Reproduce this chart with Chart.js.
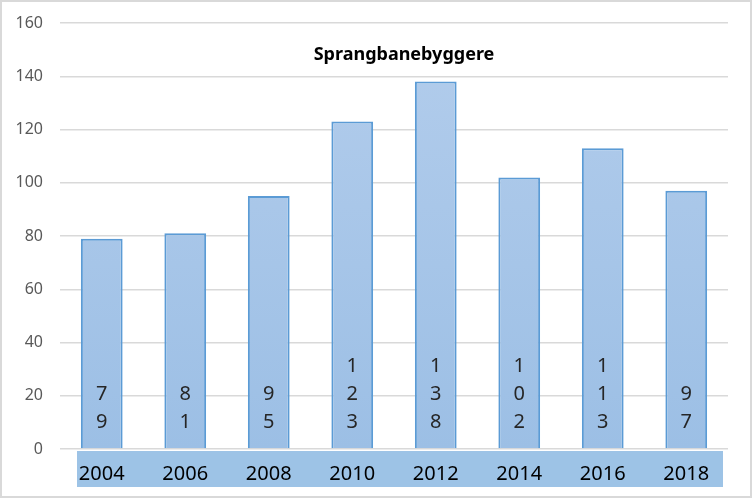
<!DOCTYPE html>
<html>
<head>
<meta charset="utf-8">
<script src="https://cdn.jsdelivr.net/npm/chart.js@4/dist/chart.umd.min.js"></script>
<style>
  html, body { margin: 0; padding: 0; background: #fff; }
  #wrap { width: 752px; height: 498px; }
</style>
</head>
<body>
<div id="wrap"><canvas id="chart" width="752" height="498"></canvas></div>
<script>
// Chart data
const chartTitle = 'Sprangbanebyggere';
const years = ['2004', '2006', '2008', '2010', '2012', '2014', '2016', '2018'];
const builders = [79, 81, 95, 123, 138, 102, 113, 97];
const yTicks = [0, 20, 40, 60, 80, 100, 120, 140, 160];

const fontFamily = '"Noto Sans", "Liberation Sans", sans-serif';

// Blue band behind the year labels, title, frame and stacked value digits
const decorPlugin = {
  id: 'decor',
  beforeDraw(chart) {
    const { ctx, chartArea } = chart;
    ctx.save();
    ctx.fillStyle = '#9dc3e6';
    ctx.fillRect(chartArea.left + 17, chartArea.bottom + 2, chartArea.right - chartArea.left - 22, 36);
    ctx.restore();
  },
  afterDraw(chart) {
    const { ctx, chartArea } = chart;
    const yScale = chart.scales.y;
    const meta = chart.getDatasetMeta(0);
    ctx.save();

    // title
    ctx.fillStyle = '#000';
    ctx.font = 'bold 18px ' + fontFamily;
    ctx.textAlign = 'center';
    ctx.textBaseline = 'middle';
    ctx.fillText(chartTitle, (chartArea.left + chartArea.right) / 2 + 10, 55);

    // value digits stacked vertically inside each bar
    ctx.font = '20px ' + fontFamily;
    ctx.fillStyle = '#262626';
    ctx.textBaseline = 'alphabetic';
    meta.data.forEach((bar, i) => {
      const digits = String(builders[i]).split('');
      const base = yScale.getPixelForValue(0) - 21;
      digits.forEach((d, j) => {
        const row = digits.length - 1 - j;
        ctx.fillText(d, bar.x, base - row * 28);
      });
    });

    // outer frame
    ctx.strokeStyle = '#d9d9d9';
    ctx.lineWidth = 2;
    ctx.strokeRect(1, 1, chart.width - 2, chart.height - 2);
    ctx.restore();
  }
};

const ctx = document.getElementById('chart').getContext('2d');

const barFill = (context) => {
  const area = context.chart.chartArea;
  if (!area) return '#a9c6e9';
  const g = context.chart.ctx.createLinearGradient(0, area.top, 0, area.bottom);
  g.addColorStop(0, '#b3cdec');
  g.addColorStop(1, '#9cbfe5');
  return g;
};

new Chart(ctx, {
  type: 'bar',
  data: {
    labels: years,
    datasets: [{
      label: chartTitle,
      data: builders,
      backgroundColor: barFill,
      borderColor: '#5b9bd5',
      borderWidth: 2,
      borderSkipped: 'bottom',
      barPercentage: 0.5,
      categoryPercentage: 1.0
    }]
  },
  options: {
    responsive: false,
    animation: false,
    layout: {
      padding: { top: 23, right: 24, bottom: 0, left: 0 }
    },
    plugins: {
      legend: { display: false },
      title: { display: false },
      tooltip: { enabled: false }
    },
    scales: {
      y: {
        min: 0,
        max: 160,
        afterBuildTicks(scale) {
          scale.ticks = yTicks.map(v => ({ value: v }));
        },
        afterFit(scale) { scale.width = 60; },
        grid: {
          color: '#d9d9d9',
          lineWidth: 1.5,
          drawTicks: true,
          tickLength: 12,
          tickColor: 'rgba(0,0,0,0)'
        },
        border: { display: false },
        ticks: {
          padding: 5,
          color: '#595959',
          font: { family: fontFamily, size: 16 }
        }
      },
      x: {
        afterFit(scale) { scale.height = 49; },
        grid: { display: false },
        border: { display: false },
        ticks: {
          padding: 5,
          color: '#000',
          font: { family: fontFamily, size: 20 }
        }
      }
    }
  },
  plugins: [decorPlugin]
});
</script>
</body>
</html>
